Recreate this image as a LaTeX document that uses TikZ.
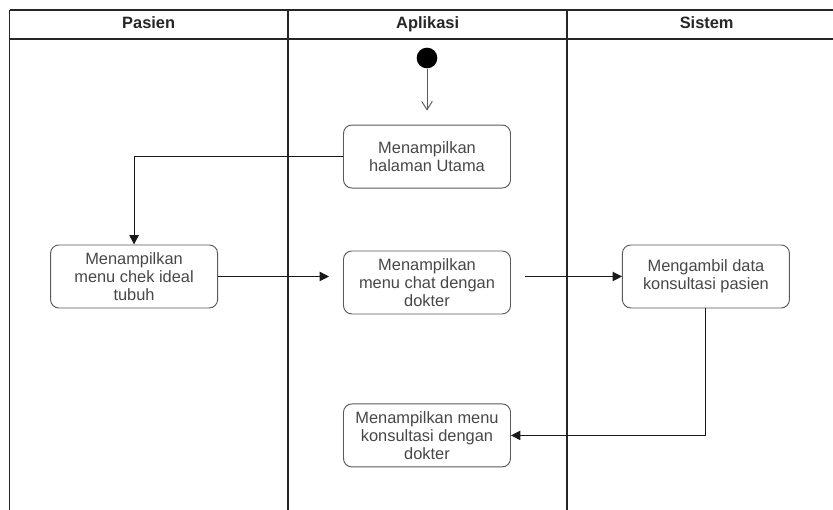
\documentclass[tikz,border=0pt]{standalone}
\usepackage{fontspec}
\setmainfont{Liberation Sans}
\usetikzlibrary{arrows.meta, positioning, calc}

\begin{document}
\begin{tikzpicture}[
  act/.style={rectangle, draw=black!65, rounded corners=0.25cm, line width=0.8pt, minimum width=5.01cm, minimum height=1.89cm, align=center, text=black!72, font=\fontsize{14}{15.5}\selectfont},
  startnode/.style={circle, fill=black, minimum size=0.62cm, inner sep=0pt},
  lane/.style={line width=1pt, black!85},
  lanetitle/.style={font=\bfseries\fontsize{14}{16}\selectfont, text=black!85, text height=1.6ex, text depth=0.45ex},
  arrow/.style={-{Triangle[length=0.28cm, width=0.28cm]}, line width=0.8pt, black!90},
  firstarrow/.style={-{Straight Barb[length=0.25cm, width=0.32cm]}, line width=0.8pt, black!65}
]

\useasboundingbox (0,0) rectangle (24.99,-15.3);

% ------------------------------------------------------------
% Swimlanes
% ------------------------------------------------------------

\draw[lane] (0.285,-0.3) -- (24.99,-0.3);
\draw[lane] (0.285,-1.17) -- (24.99,-1.17);
\foreach \x in {0.285, 8.64, 17.01}
  \draw[lane] (\x,-0.3) -- (\x,-15.3);

\node[lanetitle] (pasien) at (4.46,-0.74) {Pasien};
\node[lanetitle] (aplikasi) at (12.83,-0.74) {Aplikasi};
\node[lanetitle] (sistem) at (21.2,-0.74) {Sistem};

% ------------------------------------------------------------
% Activities
% ------------------------------------------------------------

\node[startnode] (start) at (12.81,-1.74) {};

\node[act, below=1.68cm of start] (halaman) {Menampilkan\\halaman Utama};
\node[act, below=1.86cm of halaman] (chat) {Menampilkan\\menu chat dengan\\dokter};
\node[act, left=3.75cm of chat, yshift=0.18cm] (chek) {Menampilkan\\menu chek ideal\\tubuh};
\node[act, right=3.33cm of chat, yshift=0.18cm] (ambil) {Mengambil data\\konsultasi pasien};
\node[act, below=2.67cm of chat] (konsul) {Menampilkan menu\\konsultasi dengan\\dokter};

% ------------------------------------------------------------
% Flow
% ------------------------------------------------------------

\draw[firstarrow, shorten >=0.42cm] (start) -- (halaman);
\draw[arrow] (halaman.west) -| (chek.north);
\draw[arrow, shorten >=0.42cm] (chek.east) -- (chek.east -| chat.west);
\draw[arrow, shorten <=0.42cm] (ambil.west -| chat.east) -- (ambil.west);
\draw[arrow] (ambil.south) |- (konsul.east);

\end{tikzpicture}
\end{document}
